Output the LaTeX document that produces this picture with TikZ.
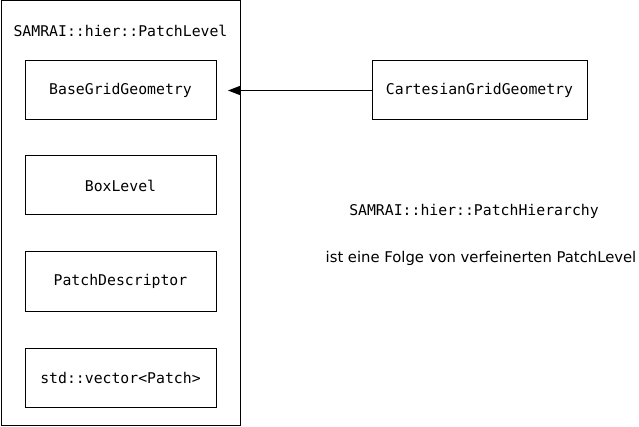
\documentclass[tikz,border=0pt]{standalone}
\usepackage{fontspec}
\setmainfont{DejaVu Sans}
\setmonofont{DejaVu Sans Mono}
\usetikzlibrary{arrows.meta}
\begin{document}
\begin{tikzpicture}[x=1pt,y=-1pt,
  box/.style={draw,line width=1pt,minimum width=191pt,minimum height=59pt,inner sep=0pt,font=\ttfamily\fontsize{14.8}{17}\selectfont},
  txt/.style={inner sep=0pt,font=\ttfamily\fontsize{14.8}{17}\selectfont},
  stxt/.style={inner sep=0pt,font=\fontsize{14.8}{17}\selectfont}]
\useasboundingbox (0,0) rectangle (639,427);
\draw[line width=1pt] (1,1) rectangle (240,425);
\node[txt] (title) at (120.5,31) {SAMRAI::hier::PatchLevel};
\node[box] (bgg) at (120.5,90.5) {BaseGridGeometry};
\node[box] (bl) at (120.5,185.5) {BoxLevel};
\node[box] (pd) at (120.5,281.5) {PatchDescriptor};
\node[box] (vec) at (120.5,377.5) {std::vector<Patch>};
\node[box,minimum width=215pt] (cgg) at (479.5,90.5) {CartesianGridGeometry};
\coordinate (tip) at (228,90.5);
\draw[line width=1pt,-{Triangle[length=12pt,width=9pt]}] (cgg.west) -- (tip);
\node[txt] (ph) at (474,211) {SAMRAI::hier::PatchHierarchy};
\node[stxt] (sent) at (481,258) {ist eine Folge von verfeinerten PatchLevel};
\end{tikzpicture}
\end{document}
